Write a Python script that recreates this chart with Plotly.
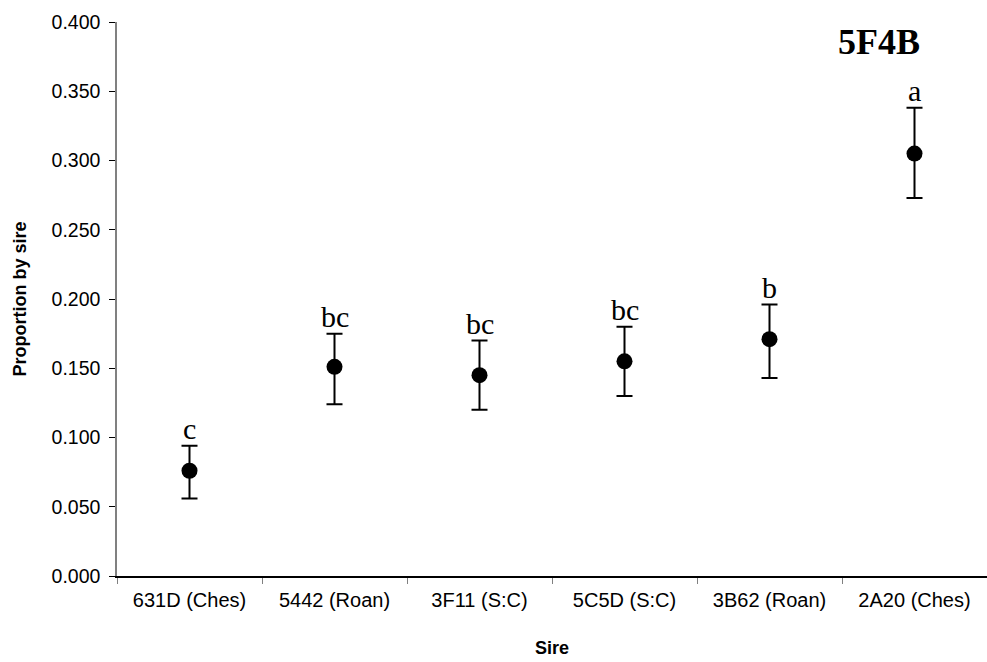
import plotly.graph_objects as go

sires = ["631D (Ches)", "5442 (Roan)", "3F11 (S:C)", "5C5D (S:C)", "3B62 (Roan)", "2A20 (Ches)"]
proportion = [0.076, 0.151, 0.145, 0.155, 0.171, 0.305]
err_upper = [0.018, 0.024, 0.025, 0.025, 0.025, 0.033]
err_lower = [0.020, 0.027, 0.025, 0.025, 0.028, 0.032]
letters = ["c", "bc", "bc", "bc", "b", "a"]
y_ticks = [0.0, 0.05, 0.1, 0.15, 0.2, 0.25, 0.3, 0.35, 0.4]
panel_label = "5F4B"

fig = go.Figure()
fig.add_trace(go.Scatter(
    x=sires, y=proportion, mode="markers",
    marker=dict(color="black", size=16, symbol="circle"),
    error_y=dict(type="data", symmetric=False, array=err_upper, arrayminus=err_lower,
                 color="black", thickness=2, width=8),
    showlegend=False,
))

for s, p, u, l in zip(sires, proportion, err_upper, letters):
    fig.add_annotation(x=s, y=p + u, text=l, showarrow=False, yanchor="bottom",
                       yshift=-1,
                       font=dict(family="Liberation Serif, Times New Roman, serif", size=30, color="black"))

fig.add_annotation(xref="paper", yref="paper", x=0.876, y=0.964, text="<b>" + panel_label + "</b>",
                   showarrow=False, xanchor="center", yanchor="middle",
                   font=dict(family="Liberation Serif, Times New Roman, serif", size=36, color="black"))

fig.update_layout(
    width=987, height=662,
    margin=dict(l=117, r=0, t=22, b=86),
    paper_bgcolor="white", plot_bgcolor="white",
    font=dict(family="Liberation Sans, Arial, sans-serif", size=19, color="black"),
)
fig.update_xaxes(
    type="category", categoryorder="array", categoryarray=sires,
    range=[-0.5, len(sires) - 0.5],
    showline=True, linecolor="black", linewidth=1.5,
    ticks="outside", tickson="boundaries", ticklen=6, tickcolor="#808080", tickwidth=1,
    showgrid=False, zeroline=False,
    tickfont=dict(size=20), ticklabelstandoff=5,
    title=dict(text="<b>Sire</b>", font=dict(size=18), standoff=32),
)
fig.update_yaxes(
    range=[0, 0.4], tickvals=y_ticks, tickformat=".3f",
    showline=True, linecolor="#808080", linewidth=1.5,
    ticks="outside", ticklen=6, tickcolor="black", tickwidth=1,
    showgrid=False, zeroline=False,
    tickfont=dict(size=19.5), ticklabelstandoff=5,
    title=dict(text="<b>Proportion by sire</b>", font=dict(size=18), standoff=20),
)

fig.write_html("out.html")
